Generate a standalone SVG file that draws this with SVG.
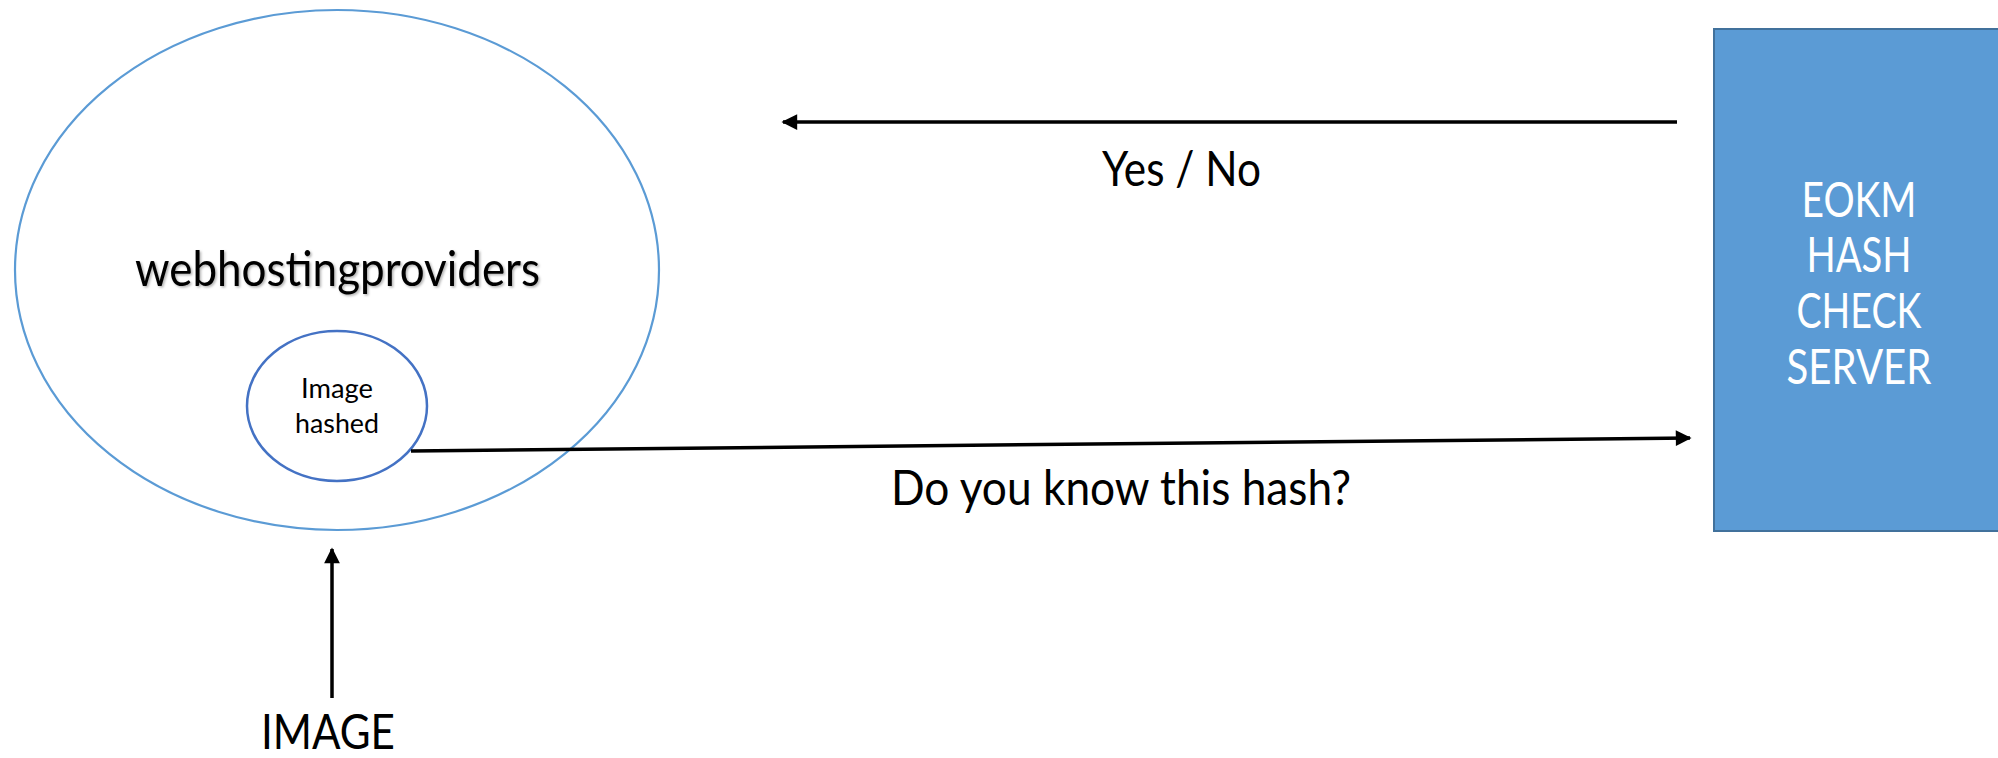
<svg xmlns="http://www.w3.org/2000/svg" width="1998" height="758" viewBox="0 0 1998 758">
<style>
.big{font-family:Lato,"Open Sans","Liberation Sans",sans-serif;font-size:48px;fill:#000}
.small{font-family:Lato,"Open Sans","Liberation Sans",sans-serif;font-size:27px;fill:#000}
.white{font-family:Lato,"Open Sans","Liberation Sans",sans-serif;font-size:48px;fill:#fff}
.conn{stroke:#000;stroke-width:3.5;fill:none}
</style>
<defs>
<marker id="arrow" viewBox="0 0 10 10" refX="9" refY="5" markerWidth="5" markerHeight="4.5" markerUnits="strokeWidth" orient="auto">
<path d="M0,0 L10,5 L0,10 z" fill="#000"/>
</marker>
<filter id="shadow" x="-5%" y="-20%" width="110%" height="140%">
<feDropShadow dx="1.5" dy="1.5" stdDeviation="1" flood-color="#000" flood-opacity="0.3"/>
</filter>
</defs>
<rect width="1998" height="758" fill="#fff"/>
<g id="webhostingproviders">
<ellipse cx="337" cy="270" rx="322" ry="260" fill="none" stroke="#5B9BD5" stroke-width="2.2"/>
<text class="big" x="337.5" y="286" text-anchor="middle" textLength="405" lengthAdjust="spacingAndGlyphs" filter="url(#shadow)">webhostingproviders</text>
</g>
<g id="image-hashed">
<ellipse cx="337" cy="406" rx="90" ry="75" fill="#fff" stroke="#4472C4" stroke-width="2.5"/>
<text class="small" x="337" y="398" text-anchor="middle" textLength="72" lengthAdjust="spacingAndGlyphs">Image</text>
<text class="small" x="337" y="433" text-anchor="middle" textLength="84" lengthAdjust="spacingAndGlyphs">hashed</text>
</g>
<g id="eokm-server">
<rect x="1714" y="29" width="300" height="502" fill="#5B9BD5" stroke="#41719C" stroke-width="2"/>
<text class="white" x="1859" y="217" text-anchor="middle" textLength="115" lengthAdjust="spacingAndGlyphs">EOKM</text>
<text class="white" x="1859" y="272" text-anchor="middle" textLength="105" lengthAdjust="spacingAndGlyphs">HASH</text>
<text class="white" x="1859" y="328" text-anchor="middle" textLength="125" lengthAdjust="spacingAndGlyphs">CHECK</text>
<text class="white" x="1859" y="384" text-anchor="middle" textLength="145" lengthAdjust="spacingAndGlyphs">SERVER</text>
</g>
<g id="image-input">
<text class="big" x="328" y="749" text-anchor="middle" textLength="134" lengthAdjust="spacingAndGlyphs">IMAGE</text>
</g>
<g id="connectors">
<line class="conn" x1="1677" y1="122" x2="783" y2="122" marker-end="url(#arrow)"/>
<line class="conn" x1="411" y1="451" x2="1690" y2="438" marker-end="url(#arrow)"/>
<line class="conn" x1="332" y1="698" x2="332" y2="549" marker-end="url(#arrow)"/>
<text class="big" x="1181.5" y="186" text-anchor="middle" textLength="159" lengthAdjust="spacingAndGlyphs">Yes / No</text>
<text class="big" x="1121" y="505" text-anchor="middle" textLength="460" lengthAdjust="spacingAndGlyphs">Do you know this hash?</text>
</g>
</svg>
